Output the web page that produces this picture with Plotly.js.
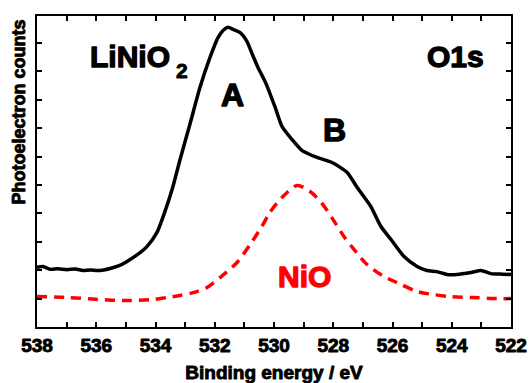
<!DOCTYPE html>
<html>
<head>
<meta charset="utf-8">
<script src="https://cdn.plot.ly/plotly-3.0.1.min.js"></script>
<style>
html,body{margin:0;padding:0;background:#fff;}
#chart{width:529px;height:383px;}
</style>
</head>
<body>
<div id="chart"></div>
<script>
// LiNiO2 O1s spectrum (black, solid)
const liEnergy = [538.00, 537.80, 537.56, 537.30, 536.99, 536.70, 536.45, 536.20, 535.97, 535.75, 535.53, 535.25, 534.96, 534.52, 534.29, 533.95, 533.68, 533.44, 533.17, 532.84, 532.50, 532.16, 531.89, 531.72, 531.55, 531.38, 531.15, 530.91, 530.74, 530.54, 530.27, 529.96, 529.73, 529.39, 529.05, 528.55, 528.04, 527.53, 527.19, 526.73, 526.39, 526.05, 525.61, 525.17, 524.84, 524.50, 524.16, 523.83, 523.35, 523.01, 522.68, 522.30, 522.00];
const liCounts = [2.10, 2.13, 2.03, 2.05, 2.02, 2.04, 1.99, 2.01, 1.99, 2.01, 2.06, 2.15, 2.31, 2.62, 2.83, 3.33, 4.07, 4.84, 5.90, 7.13, 8.43, 9.49, 10.19, 10.44, 10.55, 10.48, 10.37, 10.05, 9.62, 9.14, 8.57, 7.73, 7.06, 6.60, 6.21, 5.97, 5.79, 5.44, 4.91, 4.24, 3.54, 3.08, 2.48, 2.13, 1.99, 1.95, 1.85, 1.85, 1.92, 1.99, 1.88, 1.86, 1.85];

// NiO O1s spectrum (red, dashed)
const nioEnergy = [538.00, 536.99, 535.97, 534.96, 534.08, 533.61, 533.17, 532.73, 532.26, 531.82, 531.25, 530.81, 530.41, 530.14, 529.73, 529.22, 528.78, 528.35, 528.01, 527.64, 527.30, 526.86, 526.29, 525.71, 525.17, 524.60, 524.03, 523.35, 522.47, 522.00];
const nioCounts = [1.07, 1.04, 0.97, 0.93, 0.97, 1.04, 1.11, 1.21, 1.39, 1.74, 2.27, 2.90, 3.54, 4.03, 4.56, 4.98, 4.77, 4.31, 3.79, 3.19, 2.73, 2.20, 1.78, 1.50, 1.25, 1.14, 1.07, 1.04, 1.00, 1.00];

// axis ticks
const xTickVals = [522, 524, 526, 528, 530, 532, 534, 536, 538];
const xTickText = ['522', '524', '526', '528', '530', '532', '534', '536', '538'];
const yTickVals = [1, 2, 3, 4, 5, 6, 7, 8, 9, 10];

const FONT = 'Arial, "Liberation Sans", sans-serif';
const b = s => '<b>' + s + '</b>';

const traces = [
  {x: liEnergy, y: liCounts, type: 'scatter', mode: 'lines', name: 'LiNiO2',
   line: {color: '#000000', width: 3.5, shape: 'spline', smoothing: 0.6}},
  {x: nioEnergy, y: nioCounts, type: 'scatter', mode: 'lines', name: 'NiO',
   line: {color: '#ff0000', width: 3.5, dash: '10px,7px', shape: 'spline', smoothing: 0.8}}
];

function px2paperX(px){ return (px - 37) / 474; }
function px2paperY(py){ return (327 - py) / 311; }

function label(text, px, py, size, color, xanchor){
  return {text: b(text), xref: 'paper', yref: 'paper', x: px2paperX(px), y: px2paperY(py),
          showarrow: false, xanchor: xanchor || 'center', yanchor: 'middle',
          font: {family: FONT, size: size, color: color || '#000'}};
}

const yTitle = label('Photoelectron counts', 18.5, 112, 18);
yTitle.textangle = -90;

const layout = {
  width: 529, height: 383,
  margin: {l: 37, r: 18, t: 16, b: 56},
  paper_bgcolor: '#ffffff', plot_bgcolor: '#ffffff',
  showlegend: false,
  font: {family: FONT, color: '#000'},
  xaxis: {
    range: [538, 522], autorange: false,
    tickvals: xTickVals, ticktext: xTickText.map(b),
    ticks: 'inside', ticklen: 5, tickwidth: 2, tickcolor: '#000',
    minor: {dtick: 1, ticks: 'inside', ticklen: 5, tickwidth: 2, tickcolor: '#000', showgrid: false},
    showline: true, linewidth: 2, linecolor: '#000', mirror: 'ticks',
    showgrid: false, zeroline: false,
    tickfont: {family: FONT, size: 19, color: '#000'},
    title: {text: b('Binding energy / eV'), font: {family: FONT, size: 19, color: '#000'}, standoff: 11}
  },
  yaxis: {
    range: [0, 10.95], autorange: false,
    tickvals: yTickVals, showticklabels: false,
    ticks: 'inside', ticklen: 5, tickwidth: 2, tickcolor: '#000',
    showline: true, linewidth: 2, linecolor: '#000', mirror: 'ticks',
    showgrid: false, zeroline: false
  },
  annotations: [
    yTitle,
    label('LiNiO', 88, 56, 30, '#000', 'left'),
    label('2', 182, 70, 21),
    label('O1s', 455, 56, 30),
    label('A', 232, 95, 32),
    label('B', 334.5, 130, 32),
    label('NiO', 304.5, 276, 30, '#ff0000')
  ]
};

Plotly.newPlot('chart', traces, layout, {staticPlot: true, displayModeBar: false}).then(function(gd){
  // emphasise glyph strokes so the text reads as heavy as the reference
  gd.querySelectorAll('text').forEach(function(t){
    const cs = window.getComputedStyle(t);
    const size = parseFloat(cs.fontSize) || 16;
    t.style.stroke = cs.fill;
    t.style.strokeWidth = (size >= 28 ? 1.3 : 0.9) + 'px';
    t.style.strokeLinejoin = 'round';
  });
});
</script>
</body>
</html>
